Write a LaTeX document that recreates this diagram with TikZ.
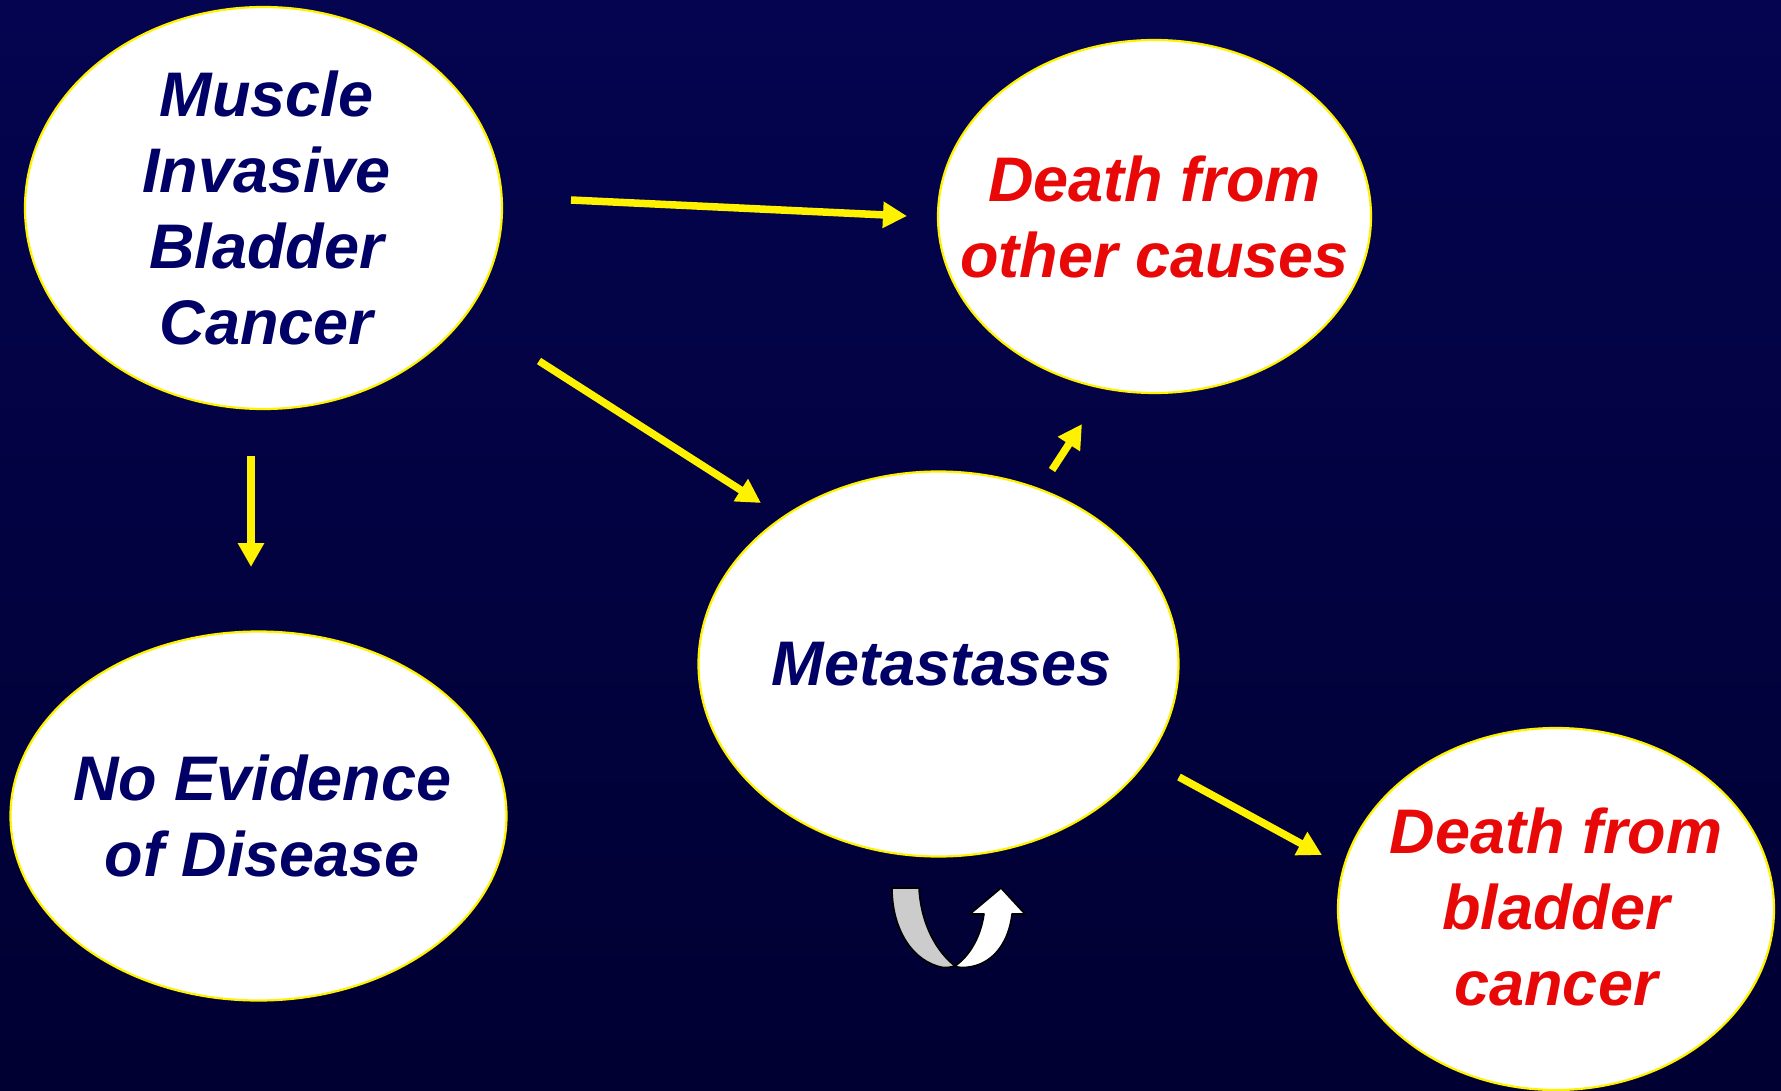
\documentclass[tikz,border=0pt]{standalone}
\usepackage{fontspec}
\setmainfont{Liberation Sans}
\usetikzlibrary{shapes.geometric,arrows.meta}
\definecolor{bgtop}{RGB}{4,4,80}
\definecolor{bgmid}{RGB}{0,0,98}
\definecolor{bgbot}{RGB}{0,0,50}
\definecolor{navytxt}{RGB}{0,0,102}
\definecolor{redtxt}{RGB}{232,8,8}
\definecolor{grayband}{RGB}{204,204,204}
\tikzset{
  state/.style={ellipse, draw=yellow, line width=2.2pt, fill=white, inner sep=0pt},
  txt/.style={align=center, inner sep=0pt, font=\fontsize{63}{76}\selectfont\bfseries\itshape},
  navy/.style={txt,text=navytxt},
  redt/.style={txt,text=redtxt},
  flow/.style={draw=yellow, line width=7.5pt, -{Triangle[length=24pt,width=25pt]}}
}
\begin{document}
\begin{tikzpicture}[x=1pt,y=-1pt]
\useasboundingbox (0,0) rectangle (1781,1091);
\shade[top color=bgtop, middle color=bgmid, bottom color=bgbot] (0,0) rectangle (1781,1091);

\node[state,minimum width=477pt,minimum height=402pt] (mibc) at (263.5,208) {};
\node[navy] (mibcT) at ([xshift=3pt]mibc.center) {Muscle\\Invasive\\Bladder\\Cancer};
\node[state,minimum width=433pt,minimum height=353pt] (dother) at (1154.5,216.5) {};
\node[redt] (dotherT) at (dother.center) {Death from\\other causes};
\node[state,minimum width=496pt,minimum height=369pt] (ned) at (258.5,816) {};
\node[navy] (nedT) at ([xshift=4pt]ned.center) {No Evidence\\of Disease};
\node[state,minimum width=480pt,minimum height=385pt] (met) at (938.5,664) {};
\node[navy] (metT) at ([xshift=3pt]met.center) {Metastases};
\node[state,minimum width=436pt,minimum height=362pt] (dbl) at (1556,909) {};
\node[redt] (dblT) at ([yshift=2pt]dbl.center) {Death from\\bladder\\cancer};

\coordinate (a1) at (571,200);   \coordinate (a2) at (907,216);
\coordinate (b1) at (539,361);   \coordinate (b2) at (761,503);
\coordinate (c1) at (251,456);   \coordinate (c2) at (251,567);
\coordinate (d1) at (1052,470);  \coordinate (d2) at (1082,424);
\coordinate (e1) at (1179,777);  \coordinate (e2) at (1322,855);

\draw[flow] (a1) -- (a2);
\draw[flow] (b1) -- (b2);
\draw[flow] (c1) -- (c2);
\draw[flow] (d1) -- (d2);
\draw[flow] (e1) -- (e2);

% U-turn arrow
\draw[fill=grayband, line width=1.6pt, line join=round]
  (892,888) -- (919,888)
  .. controls (921,925) and (937,952) .. (955,966)
  .. controls (950,967.5) and (946,967.5) .. (943,967.5)
  .. controls (913,962) and (892,930) .. (892,888) -- cycle;
\draw[fill=white, line width=1.6pt, line join=round]
  (955,966)
  .. controls (971,955) and (981,935) .. (984,914)
  -- (970,914) -- (1001,888) -- (1025,914) -- (1012,914)
  .. controls (1008,948) and (988,967.5) .. (962,967.5)
  .. controls (959,967.5) and (957,967) .. (955,966) -- cycle;
\end{tikzpicture}
\end{document}
